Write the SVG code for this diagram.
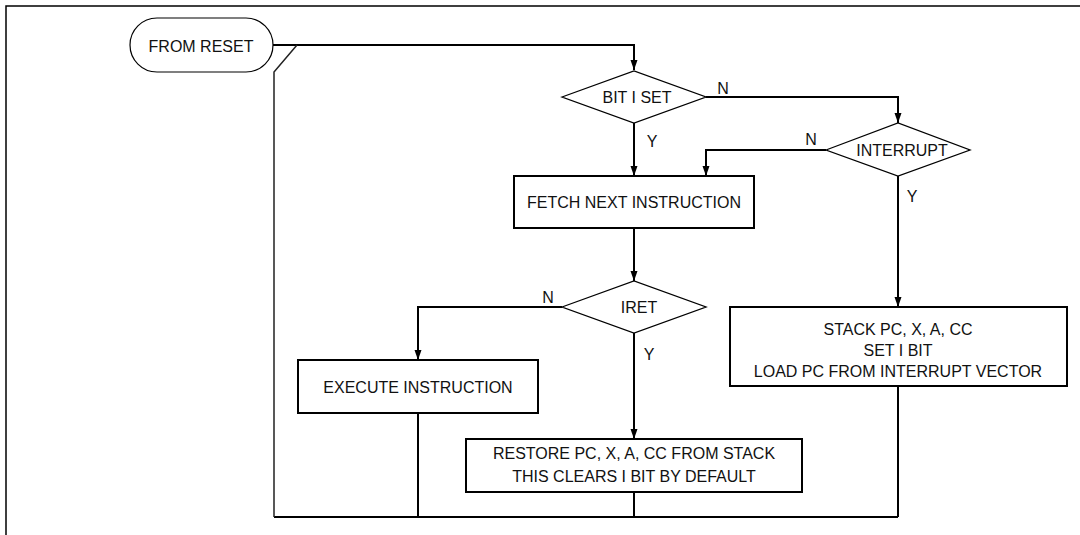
<svg xmlns="http://www.w3.org/2000/svg" width="1080" height="535" viewBox="0 0 1080 535">
<style>
  text { font-family: "Liberation Sans", Arial, sans-serif; font-size: 16px; fill: #111; text-anchor: middle; }
  .lbl { font-size: 16px; }
  .box { fill: #fff; stroke: #000; stroke-width: 2; }
  .dia { fill: #fff; stroke: #000; stroke-width: 1.3; }
  .term { fill: #fff; stroke: #000; stroke-width: 1.2; }
  .wire { fill: none; stroke: #000; stroke-width: 2; }
  .thin { fill: none; stroke: #222; stroke-width: 1.5; }
  .frame { fill: none; stroke: #000; stroke-width: 1.5; }
</style>
<defs>
  <marker id="arr" markerUnits="userSpaceOnUse" markerWidth="10" markerHeight="8" refX="10" refY="4" orient="auto">
    <path d="M0,0.5 L10,4 L0,7.5 z" fill="#000"/>
  </marker>
</defs>
<rect width="1080" height="535" fill="#fff"/>
<g id="frame">
  <path class="frame" d="M6,535 V6 H1080"/>
</g>
<g id="connectors">
  <path class="wire" d="M273,45 H634 V70" marker-end="url(#arr)"/>
  <path class="wire" d="M706,97 H898 V123" marker-end="url(#arr)"/>
  <path class="wire" d="M634,123 V176" marker-end="url(#arr)"/>
  <path class="wire" d="M826,150 H706 V176" marker-end="url(#arr)"/>
  <path class="wire" d="M898,176 V307" marker-end="url(#arr)"/>
  <path class="wire" d="M634,228 V281" marker-end="url(#arr)"/>
  <path class="wire" d="M562,307 H418 V360" marker-end="url(#arr)"/>
  <path class="wire" d="M634,333 V439" marker-end="url(#arr)"/>
  <path class="wire" d="M418,413 V517"/>
  <path class="wire" d="M634,492 V517"/>
  <path class="wire" d="M898,386 V517"/>
  <path class="wire" d="M274,517 H898"/>
  <path class="thin" d="M274,517 V72 L297,45"/>
</g>
<g id="from-reset">
  <rect class="term" x="130" y="18" width="143" height="54" rx="27" ry="27"/>
  <text x="201" y="51.5">FROM RESET</text>
</g>
<g id="bit-i-set">
  <polygon class="dia" points="562,97 634,71 706,97 634,123"/>
  <text x="637" y="102.5">BIT I SET</text>
</g>
<g id="interrupt">
  <polygon class="dia" points="826,150 898,123 970,150 898,176"/>
  <text x="902" y="155.5">INTERRUPT</text>
</g>
<g id="fetch">
  <rect class="box" x="514" y="176" width="240" height="52"/>
  <text x="634" y="208">FETCH NEXT INSTRUCTION</text>
</g>
<g id="iret">
  <polygon class="dia" points="562,307 634,281 706,307 634,333"/>
  <text x="639" y="313">IRET</text>
</g>
<g id="execute">
  <rect class="box" x="298" y="360" width="240" height="53"/>
  <text x="418" y="393">EXECUTE INSTRUCTION</text>
</g>
<g id="restore">
  <rect class="box" x="466" y="439" width="336" height="53"/>
  <text x="634" y="459">RESTORE PC, X, A, CC FROM STACK</text>
  <text x="634" y="482">THIS CLEARS I BIT BY DEFAULT</text>
</g>
<g id="stack">
  <rect class="box" x="730" y="307" width="337" height="79"/>
  <text x="898" y="335">STACK PC, X, A, CC</text>
  <text x="898" y="356">SET I BIT</text>
  <text x="898" y="377">LOAD PC FROM INTERRUPT VECTOR</text>
</g>
<g id="labels">
  <text class="lbl" x="723" y="94">N</text>
  <text class="lbl" x="811" y="145">N</text>
  <text class="lbl" x="548" y="303">N</text>
  <text class="lbl" x="652" y="147">Y</text>
  <text class="lbl" x="912" y="202">Y</text>
  <text class="lbl" x="649" y="360">Y</text>
</g>
</svg>
